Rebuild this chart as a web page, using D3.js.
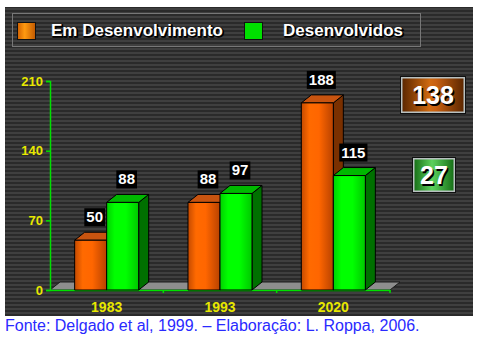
<!DOCTYPE html>
<html>
<head>
<meta charset="utf-8">
<script src="https://cdn.jsdelivr.net/npm/d3@7"></script>
<style>
  html, body { margin: 0; padding: 0; background: #fff; }
  svg { display: block; }
</style>
</head>
<body>
<div id="chart"></div>
<script>
// chart data
const years = ["1983", "1993", "2020"];
const series = ["Em Desenvolvimento", "Desenvolvidos"];
const emDesenvolvimento = [50, 88, 188];
const desenvolvidos = [88, 97, 115];
const yTicks = [0, 70, 140, 210];
const diffLabels = ["138", "27"];
const footer = "Fonte: Delgado et al, 1999. \u2013 Elaboração: L. Roppa, 2006.";

const width = 483, height = 342;
const depth = { dx: 10, dy: 8 };

const svg = d3.select("#chart").append("svg")
    .attr("width", width)
    .attr("height", height);

const defs = svg.append("defs");

// striped background
const pat = defs.append("pattern")
    .attr("id", "stripes")
    .attr("width", 8).attr("height", 4)
    .attr("patternUnits", "userSpaceOnUse");
pat.append("rect").attr("width", 8).attr("height", 4).attr("fill", "#2a2a2a");
pat.append("rect").attr("width", 8).attr("height", 2).attr("fill", "#3f3f3f");

function hGrad(id, stops) {
    const g = defs.append("linearGradient").attr("id", id)
        .attr("x1", "0%").attr("x2", "100%").attr("y1", "0%").attr("y2", "0%");
    stops.forEach(([o, c]) => g.append("stop").attr("offset", o).attr("stop-color", c));
}
hGrad("orFront", [["0%", "#c44a00"], ["25%", "#ff6a00"], ["55%", "#ff6600"], ["100%", "#b84200"]]);
hGrad("grFront", [["0%", "#00d000"], ["25%", "#00ff00"], ["60%", "#00ff00"], ["100%", "#00c800"]]);
hGrad("orLegend", [["0%", "#d06000"], ["40%", "#ff9a10"], ["100%", "#c05800"]]);
hGrad("orBox", [["0%", "#5a2600"], ["45%", "#d06a10"], ["55%", "#c86010"], ["100%", "#5a2600"]]);
hGrad("grBox", [["0%", "#166e16"], ["45%", "#5cd05c"], ["55%", "#50c050"], ["100%", "#166e16"]]);

const faces = [
    { front: "url(#orFront)", side: "#7a3000", top: "#c85410" },
    { front: "url(#grFront)", side: "#007000", top: "#00b800" }
];

// panel
svg.append("rect")
    .attr("x", 5).attr("y", 7)
    .attr("width", 468).attr("height", 309)
    .attr("fill", "url(#stripes)");

// legend
const legend = svg.append("g");
legend.append("rect")
    .attr("x", 12.5).attr("y", 13.5)
    .attr("width", 408).attr("height", 33)
    .attr("fill", "none").attr("stroke", "#777").attr("stroke-width", 1);

const legendX = [17, 244];
const legendTextX = [51, 283];
series.forEach((s, i) => {
    legend.append("rect")
        .attr("x", legendX[i] + 0.5).attr("y", 22.5)
        .attr("width", 18).attr("height", 17)
        .attr("fill", i === 0 ? "url(#orLegend)" : "#00e000")
        .attr("stroke", "#111");
    legend.append("text")
        .attr("x", legendTextX[i] + 1).attr("y", 37)
        .attr("fill", "#000").attr("stroke", "#000").attr("stroke-width", 1.5)
        .style("font", "bold 17px 'Liberation Sans', Arial, sans-serif")
        .text(s);
    legend.append("text")
        .attr("x", legendTextX[i]).attr("y", 36)
        .attr("fill", "#fff")
        .style("font", "bold 17px 'Liberation Sans', Arial, sans-serif")
        .text(s);
});

// scales
const x = d3.scaleBand().domain(years).range([50, 390]);
const xs = d3.scaleBand().domain(series).range([0, x.bandwidth()]).paddingOuter(0.77);
const y = d3.scaleLinear().domain([0, 210]).range([290, 81]);

// floor
const floor = svg.append("g");
floor.append("path")
    .attr("d", `M${x.range()[0]},${y(0)} L${x.range()[1]},${y(0)} L${x.range()[1] + depth.dx},${y(0) - depth.dy} L${x.range()[0] + depth.dx},${y(0) - depth.dy} Z`)
    .attr("fill", "#8e8e8e")
    .attr("stroke", "#1a1a1a").attr("stroke-width", 1);

// y axis
const yAxis = svg.append("g")
    .attr("transform", "translate(50,0)")
    .call(d3.axisLeft(y).tickValues(yTicks).tickSize(4).tickPadding(3));
yAxis.select(".domain").attr("stroke", "#00e000").attr("stroke-width", 1.5);
yAxis.selectAll(".tick line").attr("stroke", "#00e000").attr("stroke-width", 1.5);
yAxis.selectAll(".tick text")
    .attr("fill", "#e8e800")
    .style("font", "bold 13px 'Liberation Sans', Arial, sans-serif");

// x axis
const xAxis = svg.append("g")
    .attr("transform", `translate(0,${y(0)})`)
    .call(d3.axisBottom(x).tickSize(0).tickPadding(12));
xAxis.select(".domain").attr("stroke", "#00e000").attr("stroke-width", 1.5);
xAxis.selectAll(".tick text")
    .attr("fill", "#e8e800")
    .style("font", "bold 14px 'Liberation Sans', Arial, sans-serif");
years.forEach(yr => {
    xAxis.append("line")
        .attr("x1", x(yr) + x.bandwidth()).attr("x2", x(yr) + x.bandwidth())
        .attr("y1", 0).attr("y2", 3)
        .attr("stroke", "#00e000").attr("stroke-width", 1.5);
});

// bars
const rows = years.map((yr, i) => ({ year: yr, values: [emDesenvolvimento[i], desenvolvidos[i]] }));
const bars = svg.append("g");
rows.forEach(r => {
    r.values.forEach((v, si) => {
        const x0 = x(r.year) + xs(series[si]);
        const w = xs.bandwidth();
        const yt = y(v), yb = y(0);
        const g = bars.append("g").attr("stroke", "#000").attr("stroke-width", 1).attr("stroke-linejoin", "round");
        g.append("path")
            .attr("d", `M${x0 + w},${yb} L${x0 + w + depth.dx},${yb - depth.dy} L${x0 + w + depth.dx},${yt - depth.dy} L${x0 + w},${yt} Z`)
            .attr("fill", faces[si].side);
        g.append("path")
            .attr("d", `M${x0},${yt} L${x0 + depth.dx},${yt - depth.dy} L${x0 + w + depth.dx},${yt - depth.dy} L${x0 + w},${yt} Z`)
            .attr("fill", faces[si].top);
        g.append("rect")
            .attr("x", x0).attr("y", yt)
            .attr("width", w).attr("height", yb - yt)
            .attr("fill", faces[si].front);
    });
});

// value labels
const labels = svg.append("g");
rows.forEach(r => {
    r.values.forEach((v, si) => {
        const cx = x(r.year) + xs(series[si]) + xs.bandwidth() / 2 + 4;
        const bottom = y(v) - depth.dy - 6;
        const t = labels.append("text")
            .attr("x", cx).attr("y", bottom - 4)
            .attr("text-anchor", "middle")
            .attr("fill", "#fff")
            .style("font", "bold 15px 'Liberation Sans', Arial, sans-serif")
            .text(v);
        const bb = t.node().getBBox();
        labels.insert("rect", "text")
            .attr("x", bb.x - 2).attr("y", bottom - 18)
            .attr("width", bb.width + 4).attr("height", 18)
            .attr("fill", "#000");
    });
});

// difference boxes
const diffBoxes = [
    { x: 401, y: 77, w: 64, h: 36, fill: "url(#orBox)" },
    { x: 413, y: 158, w: 42, h: 34, fill: "url(#grBox)" }
];
diffLabels.forEach((d, i) => {
    const b = diffBoxes[i];
    svg.append("rect")
        .attr("x", b.x - 0.5).attr("y", b.y - 0.5)
        .attr("width", b.w + 1).attr("height", b.h + 1)
        .attr("fill", "none").attr("stroke", "#111").attr("stroke-width", 1);
    svg.append("rect")
        .attr("x", b.x + 0.75).attr("y", b.y + 0.75)
        .attr("width", b.w - 1.5).attr("height", b.h - 1.5)
        .attr("fill", b.fill).attr("stroke", "#b8c0c0").attr("stroke-width", 1.5);
    [[1.5, "#000"], [0, "#fff"]].forEach(([o, c]) => {
        svg.append("text")
            .attr("x", b.x + b.w / 2 + o).attr("y", b.y + b.h / 2 + 9 + o)
            .attr("text-anchor", "middle")
            .attr("fill", c)
            .style("font", "bold 25px 'Liberation Sans', Arial, sans-serif")
            .text(d);
    });
});

// footer
svg.append("text")
    .attr("x", 5).attr("y", 331)
    .attr("fill", "#2a2aff")
    .style("font", "16px 'Liberation Sans', Arial, sans-serif")
    .text(footer);
</script>
</body>
</html>
